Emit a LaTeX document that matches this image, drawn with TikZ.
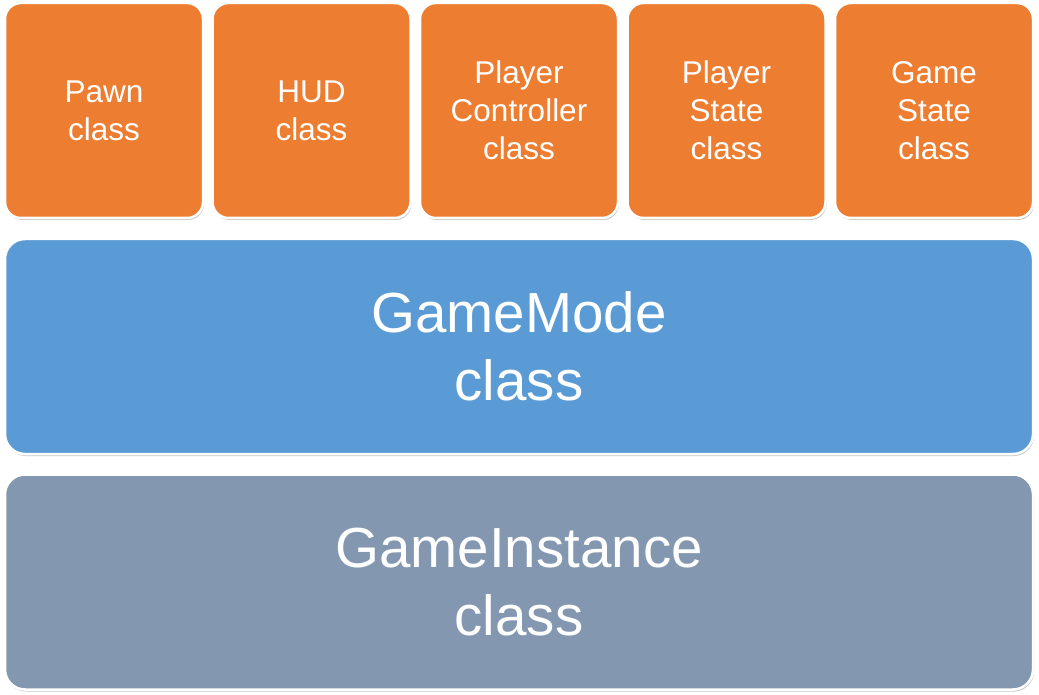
\documentclass[tikz,border=0pt]{standalone}
\usepackage{fontspec}
\setmainfont{Liberation Sans}
\usepackage{xcolor}
\usetikzlibrary{shadows}

\definecolor{boxorange}{HTML}{ED7D31}
\definecolor{boxblue}{HTML}{5B9BD5}
\definecolor{boxgrey}{HTML}{8497B0}

\tikzset{
  box/.style={draw=white, line width=2.5pt, rounded corners=16pt, text=white,
    align=center, inner sep=0pt,
    drop shadow={shadow xshift=1pt, shadow yshift=-2pt, fill=black!22, opacity=1}},
  small/.style={box, fill=boxorange, minimum width=198pt, minimum height=215pt,
    font=\fontsize{31.5}{38}\selectfont},
  large/.style={box, fill=#1, minimum width=1028pt, minimum height=215pt,
    rounded corners=20pt, font=\fontsize{56.5}{68}\selectfont}
}

\begin{document}
\begin{tikzpicture}[x=1pt, y=-1pt]

    \fill[white] (0,0) rectangle (1039,695);

    \node[small] (a) at (104, 110.5) {Pawn\\class};
    \node[small] (b) at (311.5, 110.5) {HUD\\class};
    \node[small] (c) at (519, 110.5) {Player\\Controller\\class};
    \node[small] (d) at (726.5, 110.5) {Player\\State\\class};
    \node[small] (e) at (934, 110.5) {Game\\State\\class};
    \node[large=boxblue] (f) at (519, 346.5) {GameMode\\class};
    \node[large=boxgrey] (g) at (519, 582) {GameInstance\\class};

\end{tikzpicture}
\end{document}
